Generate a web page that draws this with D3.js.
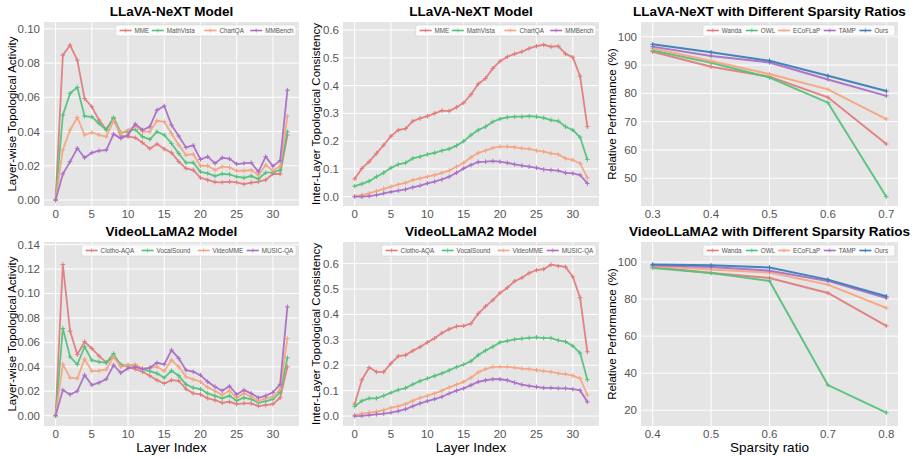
<!DOCTYPE html>
<html>
<head>
<meta charset="utf-8">
<script src="https://cdn.jsdelivr.net/npm/d3@7"></script>
<style>
  body { margin: 0; background: #fff; }
  svg { font-family: "Liberation Sans", Arial, sans-serif; }
</style>
</head>
<body>
<svg id="chart" width="912" height="460"></svg>
<script>
// ---- data ----
const layers = d3.range(0, 33);

const llavaNames = ["MME", "MathVista", "ChartQA", "MMBench"];
const videoNames = ["Clotho-AQA", "VocalSound", "VideoMME", "MUSIC-QA"];
const methodNames = ["Wanda", "OWL", "ECoFLaP", "TAMP", "Ours"];

const llavaActMME = [0, 0.0846, 0.0905, 0.0817, 0.0593, 0.0545, 0.0467, 0.0412, 0.0477, 0.0374, 0.037, 0.0364, 0.0335, 0.030, 0.0327, 0.0298, 0.0276, 0.0224, 0.0185, 0.0175, 0.013, 0.0117, 0.0105, 0.0103, 0.0107, 0.0103, 0.0093, 0.0101, 0.0107, 0.0117, 0.0152, 0.0152, 0.038];
const llavaActMathVista = [0, 0.0496, 0.0623, 0.0658, 0.049, 0.0486, 0.0447, 0.0409, 0.0482, 0.0393, 0.0399, 0.0412, 0.037, 0.0354, 0.0399, 0.038, 0.033, 0.0272, 0.0218, 0.0218, 0.0165, 0.0156, 0.014, 0.0152, 0.015, 0.0136, 0.013, 0.014, 0.0123, 0.016, 0.0161, 0.0175, 0.0399];
const llavaActChartQA = [0, 0.0292, 0.0409, 0.0482, 0.038, 0.0395, 0.038, 0.037, 0.0463, 0.0389, 0.0409, 0.0434, 0.0399, 0.0399, 0.0463, 0.0457, 0.0389, 0.0321, 0.0263, 0.0267, 0.02, 0.02, 0.0175, 0.0195, 0.0191, 0.0171, 0.0171, 0.0175, 0.0146, 0.0204, 0.0171, 0.0198, 0.049];
const llavaActMMBench = [0, 0.0152, 0.0224, 0.0302, 0.0247, 0.0276, 0.0288, 0.0292, 0.0385, 0.036, 0.038, 0.0444, 0.0409, 0.0428, 0.0525, 0.0549, 0.0438, 0.0374, 0.0307, 0.0319, 0.0237, 0.0253, 0.0214, 0.0247, 0.0241, 0.021, 0.0214, 0.0218, 0.0165, 0.0253, 0.0198, 0.023, 0.0642];

const llavaConMME = [0.064, 0.102, 0.126, 0.156, 0.186, 0.218, 0.24, 0.245, 0.272, 0.282, 0.29, 0.30, 0.31, 0.308, 0.322, 0.338, 0.368, 0.406, 0.426, 0.462, 0.488, 0.504, 0.514, 0.522, 0.534, 0.542, 0.547, 0.54, 0.542, 0.514, 0.502, 0.434, 0.252];
const llavaConMathVista = [0.038, 0.046, 0.056, 0.072, 0.086, 0.104, 0.116, 0.122, 0.138, 0.144, 0.152, 0.158, 0.166, 0.172, 0.184, 0.2, 0.222, 0.24, 0.252, 0.27, 0.28, 0.286, 0.288, 0.288, 0.29, 0.288, 0.284, 0.276, 0.272, 0.252, 0.24, 0.214, 0.134];
const llavaConChartQA = [0.002, 0.006, 0.012, 0.02, 0.028, 0.036, 0.044, 0.05, 0.06, 0.066, 0.072, 0.078, 0.086, 0.094, 0.108, 0.122, 0.142, 0.158, 0.166, 0.176, 0.18, 0.18, 0.178, 0.174, 0.172, 0.166, 0.162, 0.156, 0.152, 0.138, 0.132, 0.12, 0.068];
const llavaConMMBench = [0.0, 0.0, 0.002, 0.006, 0.012, 0.017, 0.022, 0.026, 0.034, 0.04, 0.048, 0.054, 0.062, 0.072, 0.086, 0.102, 0.114, 0.125, 0.126, 0.128, 0.126, 0.122, 0.116, 0.112, 0.108, 0.104, 0.098, 0.096, 0.094, 0.086, 0.084, 0.078, 0.048];

const videoActClotho = [0, 0.1237, 0.0692, 0.0501, 0.0605, 0.055, 0.0488, 0.0436, 0.0482, 0.042, 0.04, 0.0381, 0.036, 0.0327, 0.0291, 0.0264, 0.0291, 0.0286, 0.0218, 0.0183, 0.0174, 0.0142, 0.0128, 0.0106, 0.0114, 0.0095, 0.0101, 0.0101, 0.0079, 0.0087, 0.0095, 0.0147, 0.04];
const videoActVocal = [0, 0.0714, 0.0482, 0.042, 0.0564, 0.0455, 0.0441, 0.0433, 0.0509, 0.0409, 0.0414, 0.0409, 0.0381, 0.0365, 0.0346, 0.0311, 0.0368, 0.0327, 0.0256, 0.0229, 0.0218, 0.0183, 0.0163, 0.0142, 0.0163, 0.0123, 0.0147, 0.0136, 0.0106, 0.012, 0.0136, 0.0191, 0.0474];
const videoActVideoMME = [0, 0.042, 0.0311, 0.0305, 0.0463, 0.0365, 0.0368, 0.0379, 0.0482, 0.04, 0.0414, 0.042, 0.0387, 0.0392, 0.04, 0.0365, 0.0455, 0.04, 0.0319, 0.0297, 0.0278, 0.0232, 0.0202, 0.0169, 0.0204, 0.0147, 0.0183, 0.0155, 0.012, 0.0142, 0.0155, 0.0218, 0.0632];
const videoActMusic = [0, 0.021, 0.0174, 0.0202, 0.0332, 0.0251, 0.027, 0.03, 0.0414, 0.0351, 0.0387, 0.04, 0.0381, 0.0392, 0.0433, 0.042, 0.0537, 0.0469, 0.0373, 0.036, 0.0332, 0.0278, 0.0237, 0.0204, 0.0242, 0.0174, 0.021, 0.0183, 0.0147, 0.0163, 0.0191, 0.0256, 0.0891];

const videoConClotho = [0.047, 0.143, 0.191, 0.174, 0.174, 0.207, 0.236, 0.24, 0.257, 0.272, 0.29, 0.306, 0.327, 0.342, 0.353, 0.355, 0.364, 0.403, 0.432, 0.456, 0.485, 0.505, 0.531, 0.544, 0.563, 0.574, 0.578, 0.596, 0.591, 0.587, 0.548, 0.466, 0.253];
const videoConVocal = [0.038, 0.06, 0.07, 0.07, 0.08, 0.092, 0.103, 0.11, 0.125, 0.138, 0.148, 0.158, 0.168, 0.18, 0.193, 0.203, 0.216, 0.24, 0.258, 0.273, 0.29, 0.296, 0.302, 0.305, 0.308, 0.31, 0.307, 0.307, 0.298, 0.293, 0.276, 0.248, 0.143];
const videoConVideoMME = [0.004, 0.01, 0.014, 0.017, 0.024, 0.033, 0.039, 0.047, 0.06, 0.072, 0.08, 0.089, 0.1, 0.113, 0.124, 0.135, 0.151, 0.172, 0.185, 0.194, 0.194, 0.194, 0.191, 0.187, 0.185, 0.181, 0.177, 0.174, 0.168, 0.165, 0.159, 0.148, 0.083];
const videoConMusic = [0.0, 0.001, 0.004, 0.007, 0.01, 0.014, 0.02, 0.027, 0.039, 0.05, 0.059, 0.067, 0.076, 0.089, 0.1, 0.109, 0.122, 0.135, 0.141, 0.145, 0.145, 0.141, 0.132, 0.124, 0.119, 0.115, 0.111, 0.111, 0.109, 0.109, 0.106, 0.101, 0.056];

const llavaRatios = [0.3, 0.4, 0.5, 0.6, 0.7];
const llavaWanda = [94.7, 89.4, 85.9, 78.6, 62.1];
const llavaOWL = [95.1, 90.8, 85.6, 76.7, 43.5];
const llavaECoFLaP = [95.9, 91.4, 86.8, 81.4, 70.9];
const llavaTAMP = [96.5, 93.2, 90.9, 84.9, 79.1];
const llavaOurs = [97.3, 94.5, 91.5, 86.2, 80.8];

const videoRatios = [0.4, 0.5, 0.6, 0.7, 0.8];
const videoWanda = [97.3, 94.1, 91.4, 83.3, 65.6];
const videoOWL = [96.8, 94.1, 89.8, 33.6, 18.7];
const videoECoFLaP = [97.8, 95.9, 94.3, 87.8, 75.2];
const videoTAMP = [98.2, 97.3, 95.3, 89.8, 80.6];
const videoOurs = [98.7, 98.2, 97.0, 90.5, 81.5];

// ---- style ----
const colors = ["#e27c7c", "#55c27c", "#f4a582", "#ab6fc6", "#3c7dbb"];

const panels = [
  { title: "LLaVA-NeXT Model", ylabel: "Layer-wise Topological Activity", xlabel: null,
    x: layers, names: llavaNames, series: [llavaActMME, llavaActMathVista, llavaActChartQA, llavaActMMBench],
    rect: [44, 22, 299, 206], xdom: [-1.6, 33.6], ydom: [-0.0035, 0.104],
    xticks: [0, 5, 10, 15, 20, 25, 30], yticks: [0, 0.02, 0.04, 0.06, 0.08, 0.10], yfmt: ".2f", xfmt: "d", ylx: 12 },
  { title: "LLaVA-NeXT Model", ylabel: "Inter-Layer Topological Consistency", xlabel: null,
    x: layers, names: llavaNames, series: [llavaConMME, llavaConMathVista, llavaConChartQA, llavaConMMBench],
    rect: [343, 22, 599, 206], xdom: [-1.6, 33.6], ydom: [-0.0335, 0.629],
    xticks: [0, 5, 10, 15, 20, 25, 30], yticks: [0, 0.1, 0.2, 0.3, 0.4, 0.5, 0.6], yfmt: ".1f", xfmt: "d", ylx: 316 },
  { title: "LLaVA-NeXT with Different Sparsity Ratios", ylabel: "Relative Performance (%)", xlabel: null,
    x: llavaRatios, names: methodNames, series: [llavaWanda, llavaOWL, llavaECoFLaP, llavaTAMP, llavaOurs],
    rect: [641, 22, 898, 206], xdom: [0.28, 0.72], ydom: [40.2, 105.2],
    xticks: llavaRatios, yticks: [50, 60, 70, 80, 90, 100], yfmt: "d", xfmt: ".1f", ylx: 612 },
  { title: "VideoLLaMA2 Model", ylabel: "Layer-wise Topological Activity", xlabel: "Layer Index",
    x: layers, names: videoNames, series: [videoActClotho, videoActVocal, videoActVideoMME, videoActMusic],
    rect: [44, 242, 299, 426], xdom: [-1.6, 33.6], ydom: [-0.0084, 0.1421],
    xticks: [0, 5, 10, 15, 20, 25, 30], yticks: [0, 0.02, 0.04, 0.06, 0.08, 0.10, 0.12, 0.14], yfmt: ".2f", xfmt: "d", ylx: 12 },
  { title: "VideoLLaMA2 Model", ylabel: "Inter-Layer Topological Consistency", xlabel: "Layer Index",
    x: layers, names: videoNames, series: [videoConClotho, videoConVocal, videoConVideoMME, videoConMusic],
    rect: [343, 242, 599, 426], xdom: [-1.6, 33.6], ydom: [-0.039, 0.685],
    xticks: [0, 5, 10, 15, 20, 25, 30], yticks: [0, 0.1, 0.2, 0.3, 0.4, 0.5, 0.6], yfmt: ".1f", xfmt: "d", ylx: 316 },
  { title: "VideoLLaMA2 with Different Sparsity Ratios", ylabel: "Relative Performance (%)", xlabel: "Sparsity ratio",
    x: videoRatios, names: methodNames, series: [videoWanda, videoOWL, videoECoFLaP, videoTAMP, videoOurs],
    rect: [641, 242, 898, 426], xdom: [0.38, 0.82], ydom: [11.5, 110.8],
    xticks: videoRatios, yticks: [20, 40, 60, 80, 100], yfmt: "d", xfmt: ".1f", ylx: 612 }
];

const svg = d3.select("#chart");

panels.forEach(p => {
  const [x0, y0, x1, y1] = p.rect;
  const x = d3.scaleLinear().domain(p.xdom).range([x0, x1]);
  const y = d3.scaleLinear().domain(p.ydom).range([y1, y0]);
  const g = svg.append("g");

  g.append("rect")
    .attr("x", x0).attr("y", y0)
    .attr("width", x1 - x0).attr("height", y1 - y0)
    .attr("fill", "#e5e5e5");

  // grid
  g.selectAll(".gx").data(p.xticks).join("line")
    .attr("x1", d => x(d)).attr("x2", d => x(d))
    .attr("y1", y0).attr("y2", y1)
    .attr("stroke", "#fff").attr("stroke-width", 1);
  g.selectAll(".gy").data(p.yticks).join("line")
    .attr("class", "gy")
    .attr("x1", x0).attr("x2", x1)
    .attr("y1", d => y(d)).attr("y2", d => y(d))
    .attr("stroke", "#fff").attr("stroke-width", 1);

  // tick labels
  const fx = d3.format(p.xfmt), fy = d3.format(p.yfmt);
  g.selectAll(".tx").data(p.xticks).join("text")
    .attr("x", d => x(d)).attr("y", y1 + 12)
    .attr("text-anchor", "middle")
    .attr("font-size", 11.5).attr("fill", "#555")
    .text(d => fx(d));
  g.selectAll(".ty").data(p.yticks).join("text")
    .attr("class", "ty")
    .attr("x", x0 - 4).attr("y", d => y(d) + 4)
    .attr("text-anchor", "end")
    .attr("font-size", 11.5).attr("fill", "#555")
    .text(d => fy(d));

  // labels
  g.append("text")
    .attr("x", (x0 + x1) / 2).attr("y", y0 - 6)
    .attr("text-anchor", "middle")
    .attr("font-size", 13.5).attr("font-weight", "bold")
    .text(p.title);
  g.append("text")
    .attr("transform", `translate(${p.ylx},${(y0 + y1) / 2}) rotate(-90)`)
    .attr("text-anchor", "middle").attr("dy", "0.35em")
    .attr("font-size", 11.5)
    .text(p.ylabel);
  if (p.xlabel) {
    g.append("text")
      .attr("x", (x0 + x1) / 2).attr("y", y1 + 26)
      .attr("text-anchor", "middle")
      .attr("font-size", 13.5)
      .text(p.xlabel);
  }

  // lines + markers
  const line = d3.line().x((d, i) => x(p.x[i])).y(d => y(d));
  const lw = p.names.length === 5 ? 2 : 1.8;
  p.series.forEach((s, k) => {
    const c = colors[k];
    g.append("path").datum(s)
      .attr("d", line)
      .attr("fill", "none")
      .attr("stroke", c).attr("stroke-width", lw)
      .attr("stroke-opacity", 0.95);
    g.selectAll(null).data(s).join("path")
      .attr("d", (d, i) => {
        const cx = x(p.x[i]), cy = y(d), r = 2.3;
        return `M${cx - r},${cy}H${cx + r}M${cx},${cy - r}V${cy + r}`;
      })
      .attr("stroke", c).attr("stroke-width", 1);
  });

  // legend
  const legFont = 6.3;
  const items = p.names.map(n => ({ n, w: 22 + n.length * 3.4 }));
  const totalW = d3.sum(items, d => d.w) + 4;
  const lx = x1 - 3 - totalW, ly = y0 + 3;
  const leg = g.append("g");
  leg.append("rect")
    .attr("x", lx).attr("y", ly)
    .attr("width", totalW).attr("height", 11)
    .attr("rx", 2)
    .attr("fill", "#fff").attr("fill-opacity", 0.85)
    .attr("stroke", "#ccc").attr("stroke-width", 0.5);
  let cur = lx + 4;
  items.forEach((it, k) => {
    const c = colors[k];
    leg.append("line")
      .attr("x1", cur).attr("x2", cur + 12)
      .attr("y1", ly + 5.5).attr("y2", ly + 5.5)
      .attr("stroke", c).attr("stroke-width", 1.6);
    leg.append("path")
      .attr("d", `M${cur + 4},${ly + 5.5}H${cur + 8}M${cur + 6},${ly + 3.5}V${ly + 7.5}`)
      .attr("stroke", c).attr("stroke-width", 0.8);
    leg.append("text")
      .attr("x", cur + 15).attr("y", ly + 7.8)
      .attr("font-size", legFont).attr("fill", "#555")
      .text(it.n);
    cur += it.w;
  });
});
</script>
</body>
</html>
